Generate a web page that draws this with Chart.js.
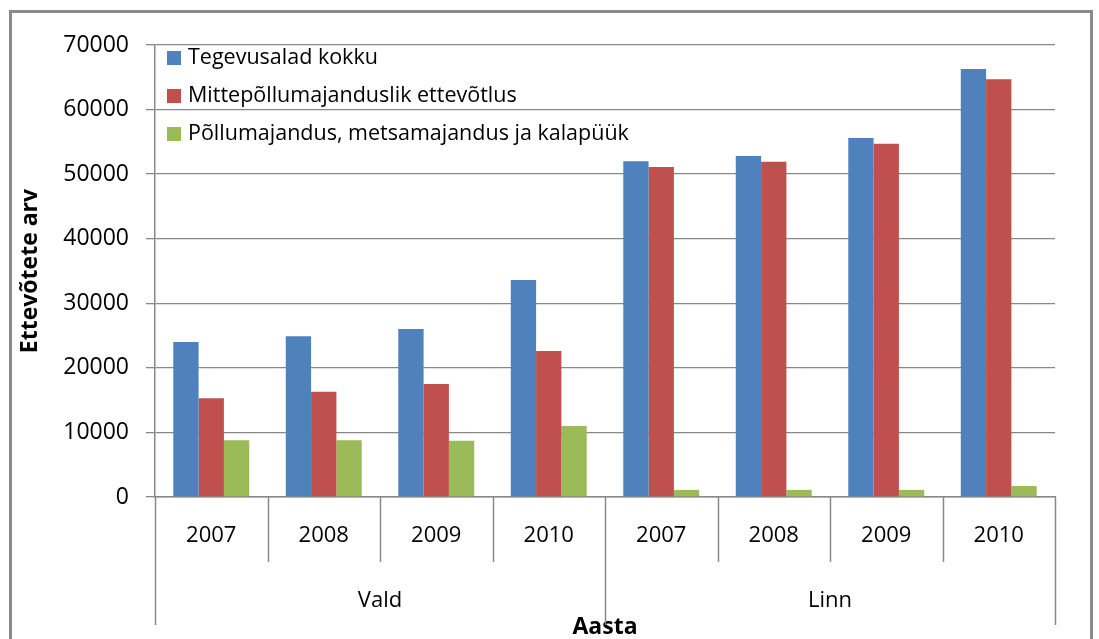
<!DOCTYPE html>
<html lang="et">

<head>
    <meta charset="UTF-8">
    <title>Ettevõtete arv</title>
    <style>
        body {
            margin: 0;
            background: #ffffff;
            overflow: hidden;
        }

        .frame {
            position: absolute;
            left: 9px;
            top: 10px;
            width: 1078px;
            height: 700px;
            border: 3px solid #8a8a8a;
        }

        #myChart {
            position: absolute;
            left: 0;
            top: 0;
        }
    </style>
</head>

<body>
    <div class="frame"></div>
    <canvas id="myChart" width="1099" height="639"></canvas>

    <script src="https://cdn.jsdelivr.net/npm/chart.js"></script>
    <script>
        // andmed
        const years = ['2007', '2008', '2009', '2010', '2007', '2008', '2009', '2010'];
        const groups = ['Vald', 'Linn'];
        const kokku = [24000, 24900, 26000, 33600, 52000, 52800, 55600, 66300];
        const mittePollu = [15300, 16300, 17500, 22600, 51100, 51900, 54700, 64700];
        const pollu = [8800, 8800, 8700, 11000, 1100, 1100, 1100, 1700];
        const seriesNames = ['Tegevusalad kokku', 'Mittepõllumajanduslik ettevõtlus', 'Põllumajandus, metsamajandus ja kalapüük'];
        const seriesColors = ['#4f81bd', '#c0504d', '#9bbb59'];
        const yMax = 70000;
        const yStep = 10000;

        const gridColor = '#888888';
        const fontFamily = '"Open Sans", "Liberation Sans", sans-serif';

        // legend + kahetasemeline x-telg
        const extras = {
            id: 'extras',
            afterDraw(chart) {
                const ctx = chart.ctx;
                const area = chart.chartArea;
                const x = chart.scales.x;
                const n = years.length;
                const step = (x.right - x.left) / n;

                ctx.save();
                ctx.strokeStyle = gridColor;
                ctx.lineWidth = 1.5;
                for (let i = 0; i <= n; i++) {
                    const px = Math.round(x.left + i * step) + 0.5;
                    const isGroup = i % (n / groups.length) === 0;
                    ctx.beginPath();
                    ctx.moveTo(px, area.bottom);
                    ctx.lineTo(px, isGroup ? area.bottom + 128 : area.bottom + 65);
                    ctx.stroke();
                }

                ctx.fillStyle = '#000000';
                ctx.font = '22px ' + fontFamily;
                ctx.textAlign = 'center';
                ctx.textBaseline = 'middle';
                const per = n / groups.length;
                groups.forEach((g, gi) => {
                    const cx = x.left + (gi * per + per / 2) * step;
                    ctx.fillText(g, cx, area.bottom + 104);
                });

                // legend
                ctx.font = '21.5px ' + fontFamily;
                ctx.textAlign = 'left';
                seriesNames.forEach((name, i) => {
                    const cy = area.top + 13 + i * 38;
                    ctx.fillStyle = seriesColors[i];
                    ctx.fillRect(area.left + 12, cy - 7, 14, 14);
                    ctx.fillStyle = '#000000';
                    ctx.fillText(name, area.left + 33, cy);
                });
                ctx.restore();
            }
        };

        const ctx = document.getElementById('myChart').getContext('2d');

        const myChart = new Chart(ctx, {
            type: 'bar',
            data: {
                labels: years,
                datasets: seriesNames.map((name, i) => ({
                    label: name,
                    data: [kokku, mittePollu, pollu][i],
                    backgroundColor: seriesColors[i],
                    borderWidth: 0,
                    barPercentage: 1,
                    categoryPercentage: 0.675
                }))
            },
            options: {
                responsive: false,
                animation: false,
                devicePixelRatio: 1,
                layout: {
                    padding: { left: 10, top: 45, right: 44, bottom: 0 }
                },
                scales: {
                    x: {
                        grid: { display: false, drawTicks: false },
                        border: { display: true, color: gridColor, width: 1.5 },
                        ticks: {
                            color: '#000000',
                            padding: 26,
                            maxRotation: 0,
                            autoSkip: false,
                            font: { family: fontFamily, size: 22 }
                        },
                        title: {
                            display: true,
                            text: 'Aasta',
                            color: '#000000',
                            padding: { top: 0, bottom: -2 },
                            font: { family: fontFamily, size: 23, weight: 'bold' }
                        },
                        afterFit(scale) {
                            scale.height = 142;
                        }
                    },
                    y: {
                        min: 0,
                        max: yMax,
                        ticks: {
                            stepSize: yStep,
                            color: '#000000',
                            padding: 17,
                            font: { family: fontFamily, size: 23 },
                            callback: (value) => String(value)
                        },
                        grid: { color: gridColor, lineWidth: 1.3, tickLength: 9 },
                        border: { color: gridColor, width: 1.5 },
                        title: {
                            display: true,
                            text: 'Ettevõtete arv',
                            color: '#000000',
                            padding: { top: 7, bottom: 0 },
                            font: { family: fontFamily, size: 23, weight: 'bold' }
                        },
                        afterFit(scale) {
                            scale.width = 145;
                        }
                    }
                },
                plugins: {
                    legend: { display: false },
                    tooltip: { enabled: false }
                }
            },
            plugins: [extras]
        });
    </script>
</body>

</html>
